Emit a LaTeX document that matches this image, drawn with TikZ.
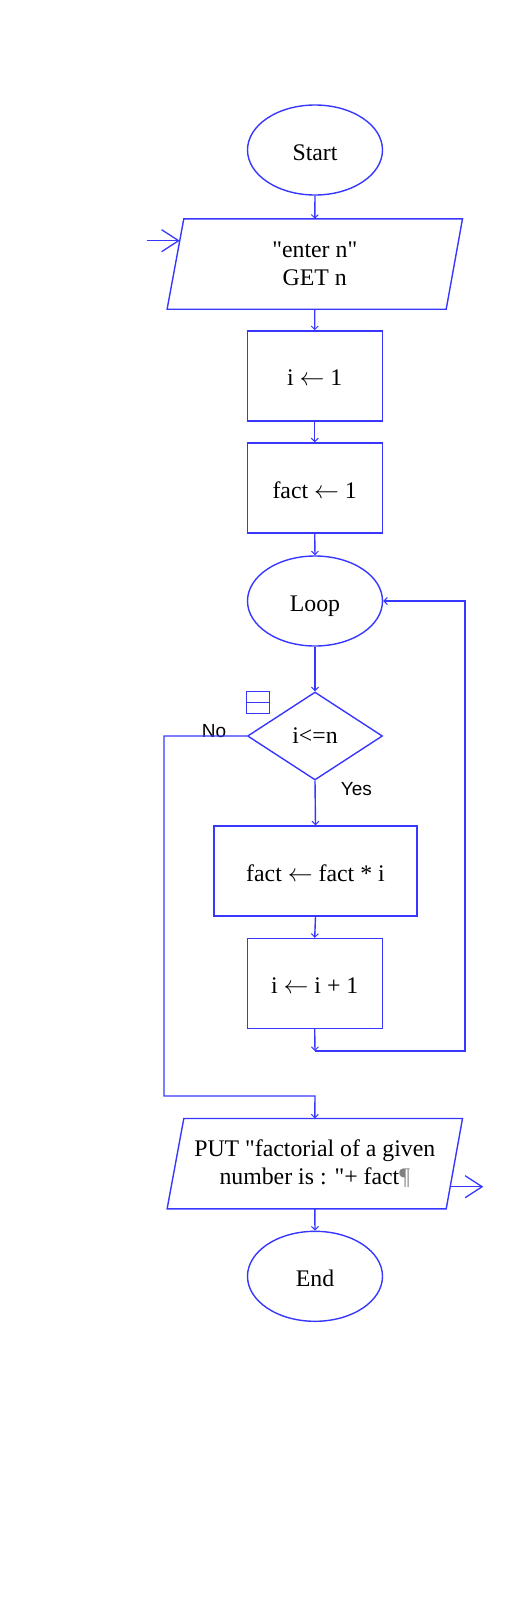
\documentclass[tikz,border=0pt]{standalone}
\usepackage{fontspec}
\setmainfont{Liberation Serif}[Ligatures=TeXOff]
\newfontfamily\labsans{Liberation Sans}
\usetikzlibrary{shapes.geometric,arrows.meta}
\definecolor{fc}{RGB}{55,55,255}
\newcommand\msz{\fontsize{23.8}{28}\selectfont}
\newcommand\la{\ensuremath{\leftarrow}}
\begin{document}
\begin{tikzpicture}[x=1pt,y=-1pt,
  line/.style={draw=fc, line width=1.4pt},
  conn/.style={line, -{Straight Barb[length=3.5pt,width=7pt,line width=1pt]}},
  bigarr/.style={line, -{Straight Barb[length=17pt,width=22pt,line width=1.3pt]}},
  oneline/.style={text height=20pt, text depth=0pt},
  term/.style={ellipse, line, oneline, minimum width=135pt, minimum height=90pt, inner sep=0pt, font=\msz},
  proc/.style={rectangle, line, oneline, minimum width=135pt, minimum height=90pt, inner sep=0pt, font=\msz},
  iobox/.style={rectangle, minimum width=295pt, minimum height=90pt, inner sep=0pt, align=center, font=\msz},
  decide/.style={diamond, line, minimum width=135pt, minimum height=88pt, inner sep=0pt, font=\msz},
  lab/.style={font=\labsans\fontsize{19}{22}\selectfont, inner sep=0pt, anchor=base}
]
\useasboundingbox (0,0) rectangle (523,1617);

\node[term] (start) at (315,150) {Start};
\node[iobox] (in) at (314.8,264) {"enter n"\\GET n};
\draw[line] ([xshift=16.7pt]in.north west) -- (in.north east) -- ([xshift=-16.3pt]in.south east) -- (in.south west) -- cycle;
\node[proc] (i1) at (314.7,375.9) {i \la{} 1};
\node[proc] (f1) at (314.7,488) {fact \la{} 1};
\node[term] (loop) at (315,601) {Loop};
\node[decide] (dia) at (315,736) {i<=n};
\node[line, line width=1pt, minimum width=23pt, minimum height=22pt, inner sep=0pt] (icon) at (258.4,702.2) {};
\draw[line, line width=1pt] (icon.west) -- (icon.east);
\node[proc, minimum width=203pt] (fm) at (315.5,871) {fact \la{} fact * i};
\node[proc] (ii) at (314.7,983.5) {i \la{} i + 1};
\node[iobox] (put) at (314.8,1163.7) {PUT "factorial of a given\\number is : "+ fact{\color{gray}¶}};
\draw[line] ([xshift=16.7pt]put.north west) -- (put.north east) -- ([xshift=-16.3pt]put.south east) -- (put.south west) -- cycle;
\node[term] (end) at (315,1276.3) {End};

\node[lab] (no) at (214,737) {No};
\node[lab] (yes) at (356.3,795) {Yes};

\coordinate (inS) at (146.7,240.7);
\coordinate (inE) at (179.8,240.7);
\coordinate (outS) at (449.9,1186.7);
\coordinate (outE) at (483.3,1186.7);
\coordinate (r1) at (315,1051);
\coordinate (r2) at (465,1051);
\coordinate (r3) at (465,601);
\coordinate (n1) at (164,736);
\coordinate (n2) at (164,1096);
\coordinate (n3) at (315,1096);

\draw[conn] (start.south) -- (in.north);
\draw[conn] (in.south) -- (i1.north);
\draw[conn] (i1.south) -- (f1.north);
\draw[conn] (f1.south) -- (loop.north);
\draw[conn] (loop.south) -- (dia.north);
\draw[conn] (dia.south) -- (fm.north);
\draw[conn] (fm.south) -- (ii.north);
\draw[conn] (ii.south) -- (r1);
\draw[conn] (r1) -- (r2) -- (r3) -- (loop.east);
\draw[conn] (dia.west) -- (n1) -- (n2) -- (n3) -- (put.north);
\draw[conn] (put.south) -- (end.north);
\draw[bigarr] (inS) -- (inE);
\draw[bigarr] (outS) -- (outE);
\end{tikzpicture}
\end{document}
